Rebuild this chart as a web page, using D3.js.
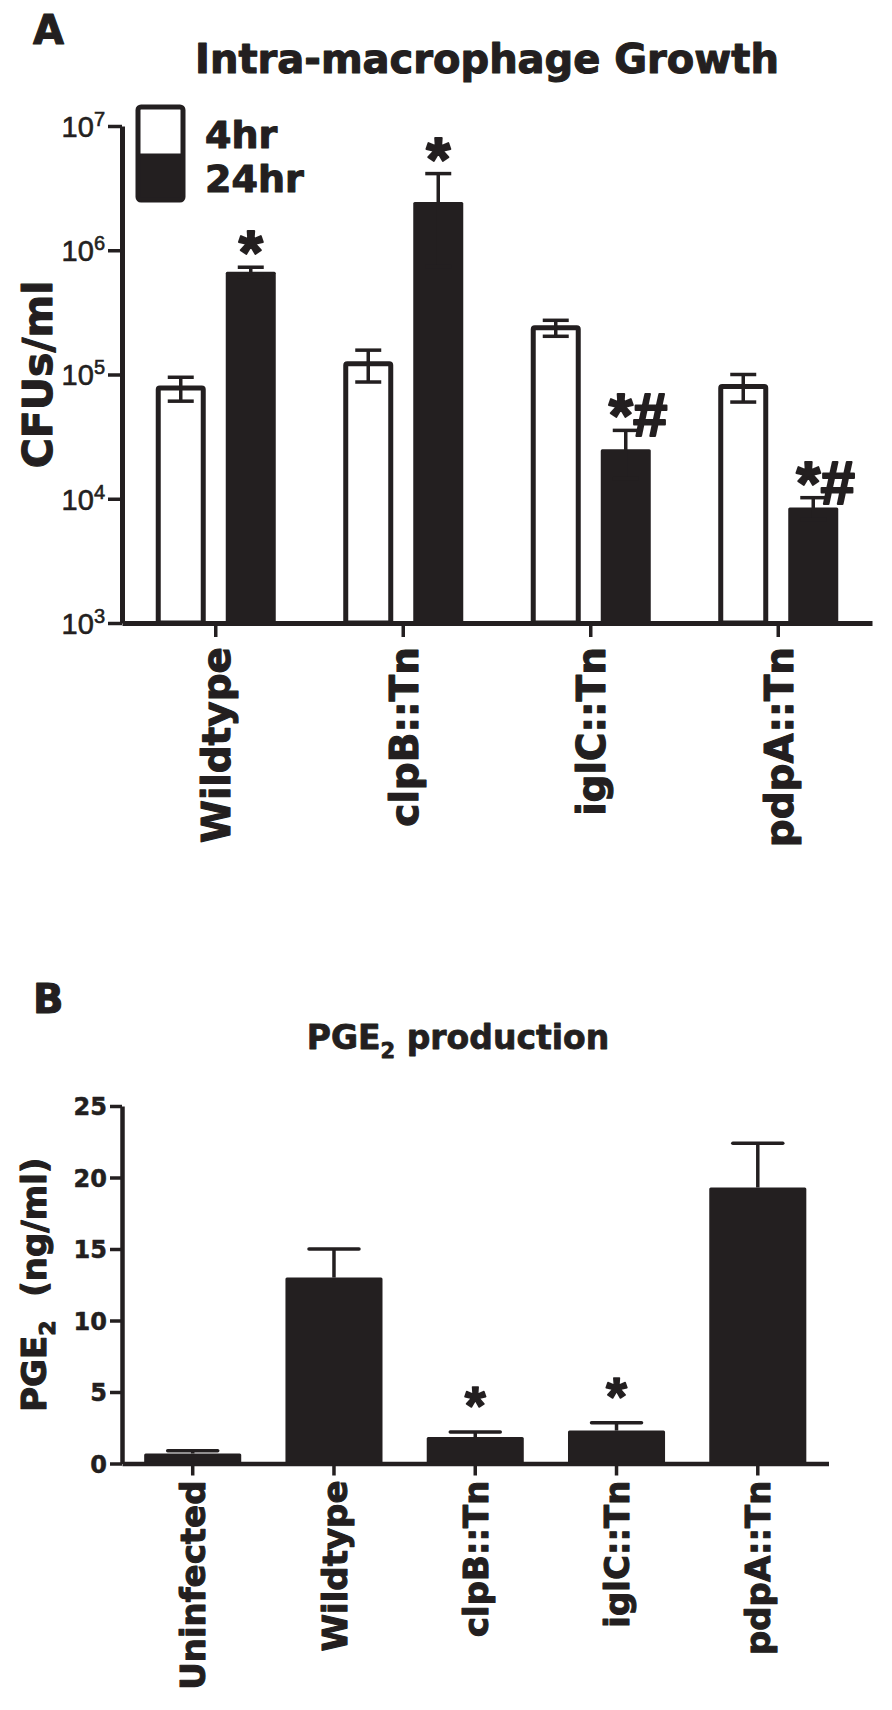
<!DOCTYPE html>
<html>
<head>
<meta charset="utf-8">
<script src="https://cdn.jsdelivr.net/npm/d3@7"></script>
<style>
  body { margin: 0; background: #fff; }
  svg { display: block; }
</style>
</head>
<body>
<div id="chart"></div>
<script>
// Panel A data: intra-macrophage growth (CFUs/ml)
const strainsA = ["Wildtype", "clpB::Tn", "iglC::Tn", "pdpA::Tn"];
const timepoints = ["4hr", "24hr"];
const cfu4hr = [78000, 122000, 238000, 80000];
const cfu4hrErr = [17000, 35000, 35000, 20000];
const cfu24hr = [670000, 2440000, 25000, 8500];
const cfu24hrErr = [60000, 1700000, 10500, 1700];
const sigA24 = ["*", "*", "*#", "*#"];
const logTicksA = [1e3, 1e4, 1e5, 1e6, 1e7];

// Panel B data: PGE2 production (ng/ml)
const strainsB = ["Uninfected", "Wildtype", "clpB::Tn", "iglC::Tn", "pdpA::Tn"];
const pge2 = [0.7, 13.0, 1.85, 2.3, 19.3];
const pge2Err = [0.2, 2.0, 0.35, 0.55, 3.1];
const sigB = ["", "", "*", "*", ""];
const ticksB = [0, 5, 10, 15, 20, 25];

const width = 892;
const height = 1710;
const ink = "#231f20";
const heavy = "'DejaVu Sans', sans-serif";
const helv = "'Liberation Sans', Arial, sans-serif";

// thicken bold text a little so it reads like a black-weight face
function heavyText(sel, size, extra = 1.1) {
    return sel.attr("font-family", heavy).attr("font-weight", "bold")
        .attr("font-size", size).attr("fill", ink)
        .attr("stroke", ink).attr("stroke-width", extra)
        .attr("stroke-linejoin", "round");
}

const svg = d3.select("#chart").append("svg")
    .attr("width", width)
    .attr("height", height)
    .attr("viewBox", `0 0 ${width} ${height}`);

// ---------- Panel A ----------
const a = {left: 122, right: 872, top: 126, bottom: 623};

const xA = d3.scaleBand().domain(strainsA).range([a.left, a.right]);
const xSub = d3.scaleBand().domain(timepoints)
    .range([0, xA.bandwidth()])
    .paddingInner(0.2857)
    .paddingOuter(0.482);
const yA = d3.scaleLog().domain([1e3, 1e7]).range([a.bottom, a.top]);

const rowsA = strainsA.flatMap((s, i) => [
    {strain: s, time: "4hr", v: cfu4hr[i], e: cfu4hrErr[i], sig: ""},
    {strain: s, time: "24hr", v: cfu24hr[i], e: cfu24hrErr[i], sig: sigA24[i]}
]);

const gA = svg.append("g");

heavyText(svg.append("text"), 40)
    .attr("x", 33).attr("y", 44)
    .text("A");

heavyText(gA.append("text"), 40)
    .attr("x", 487).attr("y", 73)
    .attr("text-anchor", "middle")
    .text("Intra-macrophage Growth");

// bars
const bw = xSub.bandwidth();
gA.append("g").selectAll("rect")
    .data(rowsA)
    .join("rect")
    .attr("x", d => xA(d.strain) + xSub(d.time) + (d.time === "4hr" ? 2.5 : 0))
    .attr("width", d => d.time === "4hr" ? bw - 5 : bw)
    .attr("y", d => yA(d.v))
    .attr("height", d => yA(1e3) - yA(d.v))
    .attr("rx", 1.5)
    .attr("fill", d => d.time === "4hr" ? "#fff" : ink)
    .attr("stroke", d => d.time === "4hr" ? ink : "none")
    .attr("stroke-width", 5);

// error bars
const capA = 13;
const errA = gA.append("g")
    .attr("stroke", ink).attr("stroke-width", 3.5)
    .selectAll("g")
    .data(rowsA)
    .join("g")
    .attr("transform", d => `translate(${xA(d.strain) + xSub(d.time) + bw / 2},0)`);
errA.append("line")
    .attr("y1", d => yA(d.v - d.e)).attr("y2", d => yA(d.v + d.e));
errA.append("line")
    .attr("x1", -capA).attr("x2", capA)
    .attr("y1", d => yA(d.v + d.e)).attr("y2", d => yA(d.v + d.e));
errA.append("line")
    .attr("x1", -capA).attr("x2", capA)
    .attr("y1", d => yA(d.v - d.e)).attr("y2", d => yA(d.v - d.e));

// significance marks
gA.append("g").selectAll("text")
    .data(rowsA.filter(d => d.sig))
    .join("text")
    .attr("x", d => xA(d.strain) + xSub(d.time) + bw / 2 + (d.sig.length > 1 ? -17 : 0))
    .attr("y", d => yA(d.v + d.e) + 6)
    .attr("text-anchor", d => d.sig.length > 1 ? "start" : "middle")
    .attr("font-family", helv).attr("font-weight", "bold")
    .attr("font-size", 62).attr("fill", ink)
    .attr("stroke", ink).attr("stroke-width", 2).attr("stroke-linejoin", "round")
    .text(d => d.sig);

// axes
const yAxisA = gA.append("g")
    .attr("transform", `translate(${a.left},0)`)
    .call(d3.axisLeft(yA).tickValues(logTicksA).tickSize(14).tickSizeOuter(0).tickFormat(""));
yAxisA.selectAll(".tick text")
    .attr("x", -17).attr("dy", "0.36em")
    .attr("font-family", helv).attr("font-size", 29).attr("fill", ink)
    .attr("stroke", ink).attr("stroke-width", 0.6)
    .each(function(d) {
        const t = d3.select(this);
        t.append("tspan").text("10");
        t.append("tspan").attr("dy", -11).attr("font-size", 20).text(Math.round(Math.log10(d)));
    });

const xAxisA = gA.append("g")
    .attr("transform", `translate(0,${a.bottom})`)
    .call(d3.axisBottom(xA).tickSize(14).tickSizeOuter(0));
heavyText(xAxisA.selectAll(".tick text"), 39)
    .attr("transform", "translate(0,24) rotate(-90)")
    .attr("x", 0).attr("y", 0).attr("dy", "0.37em")
    .attr("text-anchor", "end");

[yAxisA, xAxisA].forEach(ax => {
    ax.select(".domain").attr("stroke", ink).attr("stroke-width", 5);
    ax.selectAll(".tick line").attr("stroke", ink).attr("stroke-width", 3.5);
});

heavyText(gA.append("text"), 41)
    .attr("transform", `translate(52,${(a.top + a.bottom) / 2}) rotate(-90)`)
    .attr("text-anchor", "middle")
    .text("CFUs/ml");

// legend
const legA = gA.append("g").attr("transform", "translate(138,107)");
legA.selectAll("rect")
    .data(timepoints)
    .join("rect")
    .attr("x", 0).attr("y", (d, i) => i * 46.5)
    .attr("width", 45).attr("height", 46.5)
    .attr("fill", (d, i) => i === 0 ? "#fff" : ink);
legA.append("rect")
    .attr("x", 0).attr("y", 0).attr("width", 45).attr("height", 93)
    .attr("rx", 3)
    .attr("fill", "none").attr("stroke", ink).attr("stroke-width", 5);
heavyText(legA.selectAll("text").data(timepoints).join("text"), 38)
    .attr("x", 67).attr("y", (d, i) => 41 + i * 44)
    .text(d => d);

// ---------- Panel B ----------
const b = {left: 122, right: 828.5, top: 1106, bottom: 1463.5};

const xB = d3.scaleBand().domain(strainsB).range([b.left, b.right])
    .paddingInner(0.313).paddingOuter(0.157);
const yB = d3.scaleLinear().domain([0, 25]).range([b.bottom, b.top]);

const rowsB = strainsB.map((s, i) => ({strain: s, v: pge2[i], e: pge2Err[i], sig: sigB[i]}));

const gB = svg.append("g");

heavyText(svg.append("text"), 40)
    .attr("x", 33).attr("y", 1013)
    .text("B");

const titleB = heavyText(gB.append("text"), 33, 0.8)
    .attr("x", 458).attr("y", 1049)
    .attr("text-anchor", "middle");
titleB.append("tspan").text("PGE");
titleB.append("tspan").attr("dy", 9).attr("font-size", 21).text("2");
titleB.append("tspan").attr("dy", -9).text(" production");

gB.append("g").selectAll("rect")
    .data(rowsB)
    .join("rect")
    .attr("x", d => xB(d.strain))
    .attr("width", xB.bandwidth())
    .attr("y", d => yB(d.v))
    .attr("height", d => yB(0) - yB(d.v))
    .attr("rx", 1.5)
    .attr("fill", ink);

const capB = 25;
const errB = gB.append("g")
    .attr("stroke", ink).attr("stroke-width", 3.5)
    .selectAll("g")
    .data(rowsB)
    .join("g")
    .attr("transform", d => `translate(${xB(d.strain) + xB.bandwidth() / 2},0)`);
errB.append("line")
    .attr("y1", d => yB(d.v)).attr("y2", d => yB(d.v + d.e));
errB.append("line")
    .attr("x1", -capB).attr("x2", capB)
    .attr("y1", d => yB(d.v + d.e)).attr("y2", d => yB(d.v + d.e))
    .attr("stroke-linecap", "round");

gB.append("g").selectAll("text")
    .data(rowsB.filter(d => d.sig))
    .join("text")
    .attr("x", d => xB(d.strain) + xB.bandwidth() / 2)
    .attr("y", d => yB(d.v + d.e) - 8)
    .attr("text-anchor", "middle")
    .attr("font-family", helv).attr("font-weight", "bold")
    .attr("font-size", 54).attr("fill", ink)
    .attr("stroke", ink).attr("stroke-width", 1.5).attr("stroke-linejoin", "round")
    .text(d => d.sig);

const yAxisB = gB.append("g")
    .attr("transform", `translate(${b.left},0)`)
    .call(d3.axisLeft(yB).tickValues(ticksB).tickSize(12).tickSizeOuter(0));
heavyText(yAxisB.selectAll(".tick text"), 24, 0.5)
    .attr("x", -15).attr("dy", "0.36em");

const xAxisB = gB.append("g")
    .attr("transform", `translate(0,${b.bottom})`)
    .call(d3.axisBottom(xB).tickSize(12).tickSizeOuter(0));
heavyText(xAxisB.selectAll(".tick text"), 34)
    .attr("transform", "translate(0,17) rotate(-90)")
    .attr("x", 0).attr("y", 0).attr("dy", "0.37em")
    .attr("text-anchor", "end");

[yAxisB, xAxisB].forEach(ax => {
    ax.select(".domain").attr("stroke", ink).attr("stroke-width", 4.5);
    ax.selectAll(".tick line").attr("stroke", ink).attr("stroke-width", 3.5);
});

const ylabB = heavyText(gB.append("text"), 34)
    .attr("transform", `translate(46,${(b.top + b.bottom) / 2}) rotate(-90)`)
    .attr("text-anchor", "middle");
ylabB.append("tspan").text("PGE");
ylabB.append("tspan").attr("dy", 9).attr("font-size", 22).text("2");
ylabB.append("tspan").attr("dy", -9).text("\u00a0\u00a0(ng/ml)");
</script>
</body>
</html>
